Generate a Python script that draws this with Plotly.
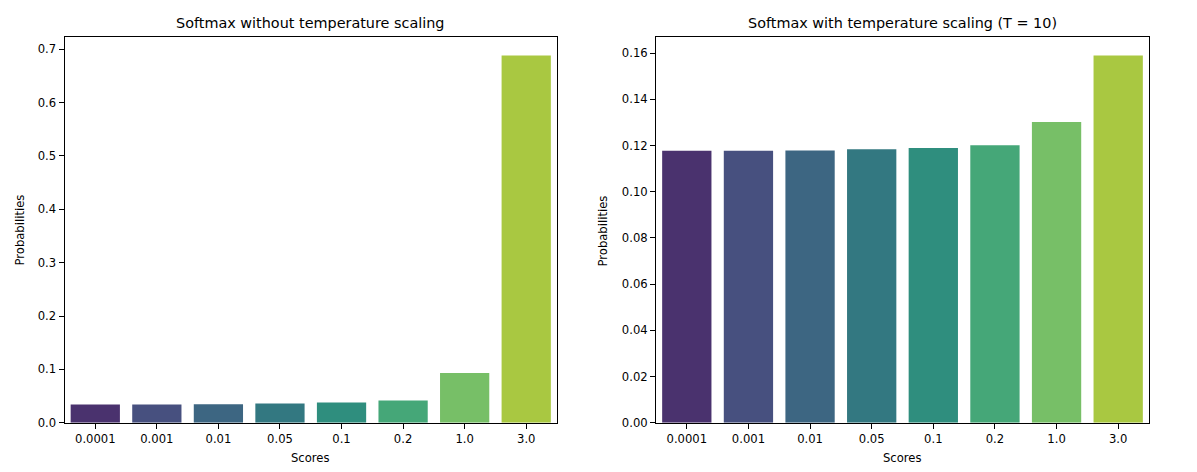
import plotly.graph_objects as go

scores = ["0.0001", "0.001", "0.01", "0.05", "0.1", "0.2", "1.0", "3.0"]
probs_no_temp = [0.03426, 0.03429, 0.03460, 0.03601, 0.03786, 0.04184, 0.09312, 0.68803]
probs_temp10 = [0.11777, 0.11778, 0.11788, 0.11836, 0.11895, 0.12014, 0.13015, 0.15897]
colors = ["#4a326e", "#47507f", "#3d6682", "#337881", "#2f8e7e", "#45a778", "#77bf67", "#a9c841"]

OFF = 8          # page body margin
VSCALE = 480 / 472  # page-to-picture vertical factor
W, H = 1197 - 2 * OFF, 464
font = "DejaVu Sans"

def px(x):
    return (x - OFF) / W

def py(y):
    return 1 - (y * VSCALE - OFF) / H

fig = go.Figure()
fig.add_trace(go.Bar(x=scores, y=probs_no_temp, marker=dict(color=colors, line=dict(width=0)),
                     xaxis="x", yaxis="y", showlegend=False))
fig.add_trace(go.Bar(x=scores, y=probs_temp10, marker=dict(color=colors, line=dict(width=0)),
                     xaxis="x2", yaxis="y2", showlegend=False))

ydom = [py(422), py(37)]
xd1 = [px(64.5), px(557)]
xd2 = [px(656), px(1149)]

axis_common = dict(showline=True, linecolor="black", linewidth=1, mirror=True,
                   ticks="outside", ticklen=5, tickcolor="black", tickwidth=1,
                   showgrid=False, zeroline=False,
                   tickfont=dict(family=font, size=11.6, color="black"))

fig.update_layout(
    width=W, height=H,
    margin=dict(l=0, r=0, t=0, b=0),
    paper_bgcolor="white", plot_bgcolor="white",
    bargap=0.2,
    font=dict(family=font, color="black"),
    xaxis=dict(domain=xd1, anchor="y", type="category", range=[-0.5, 7.5], **axis_common),
    yaxis=dict(domain=ydom, anchor="x", range=[0, 0.7224], dtick=0.1, tickformat=".1f", **axis_common),
    xaxis2=dict(domain=xd2, anchor="y2", type="category", range=[-0.5, 7.5], **axis_common),
    yaxis2=dict(domain=ydom, anchor="x2", range=[0, 0.1669], dtick=0.02, tickformat=".2f", **axis_common),
)

def ann(x, y, text, size, angle=0):
    fig.add_annotation(x=px(x), y=py(y), xref="paper", yref="paper", text=text,
                       showarrow=False, textangle=angle,
                       font=dict(family=font, size=size, color="black"),
                       xanchor="center", yanchor="middle")

ann(310.5, 23, "Softmax without temperature scaling", 14.4)
ann(902.5, 23, "Softmax with temperature scaling (T = 10)", 14.4)
ann(310.5, 457, "Scores", 11.6)
ann(902.5, 457, "Scores", 11.6)
ann(20, 230, "Probabilities", 11.6, -90)
ann(603, 230, "Probabilities", 11.6, -90)

fig.write_html("out.html")
